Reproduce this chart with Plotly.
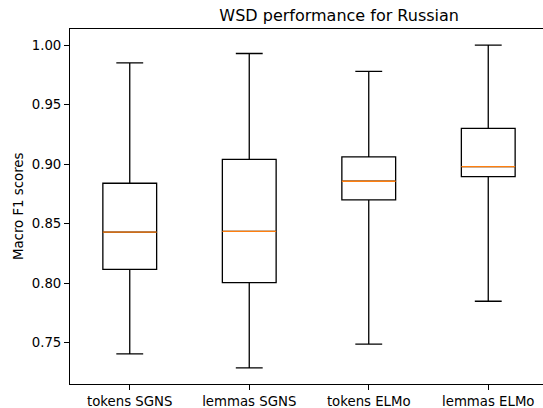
import plotly.graph_objects as go

categories = ["tokens SGNS", "lemmas SGNS", "tokens ELMo", "lemmas ELMo"]
positions = [1, 2, 3, 4]
lower_whisker = [0.7404, 0.7287, 0.7486, 0.7847]
q1_values = [0.8115, 0.8003, 0.8700, 0.8895]
medians = [0.8428, 0.8434, 0.8856, 0.8979]
q3_values = [0.8839, 0.9040, 0.9060, 0.9300]
upper_whisker = [0.9852, 0.9930, 0.9779, 1.0000]
y_ticks = [0.75, 0.80, 0.85, 0.90, 0.95, 1.00]

BOX_W = 0.45
W, H = 543, 408
L, R, T, B = 70, 0, 29, 24
FONT = "DejaVu Sans"

fig = go.Figure()
for p, lo, a, m, b, hi in zip(positions, lower_whisker, q1_values, medians, q3_values, upper_whisker):
    fig.add_trace(go.Box(
        x=[p], q1=[a], median=[m], q3=[b], lowerfence=[lo], upperfence=[hi],
        width=BOX_W, whiskerwidth=0.5, boxpoints=False,
        line=dict(color="black", width=1.3), fillcolor="rgba(0,0,0,0)",
        showlegend=False, hoverinfo="skip",
    ))

mx, my = [], []
for p, m in zip(positions, medians):
    mx += [p - BOX_W / 2, p + BOX_W / 2, None]
    my += [m, m, None]
fig.add_trace(go.Scatter(x=mx, y=my, mode="lines", line=dict(color="#ff7f0e", width=1.3),
                         showlegend=False, hoverinfo="skip"))

# axes extend slightly past the right edge of the picture (cropped figure)
x_right = 4.5 - 5.0 / 119.5
fig.update_layout(
    width=W, height=H,
    margin=dict(l=L, r=R, t=T, b=B, pad=0, autoexpand=False),
    paper_bgcolor="white", plot_bgcolor="white",
    font=dict(family=FONT, size=13.3, color="black"),
    title=dict(text="WSD performance for Russian", font=dict(size=16, color="black"),
               x=309 / W, xanchor="center", xref="paper", y=1 - 15 / H, yanchor="middle", yref="container"),
    xaxis=dict(range=[0.5, x_right], tickvals=positions, ticktext=categories,
               showgrid=False, zeroline=False, showline=True, mirror=True,
               linecolor="black", linewidth=1, ticks="outside", ticklen=5,
               tickcolor="black", tickwidth=1, tickfont=dict(size=13.3), automargin=False),
    yaxis=dict(range=[0.7151, 1.0136], tickvals=y_ticks, tickformat=".2f",
               showgrid=False, zeroline=False, showline=True, mirror=False,
               linecolor="black", linewidth=1, ticks="outside", ticklen=5,
               tickcolor="black", tickwidth=1, tickfont=dict(size=13.3), automargin=False),
    annotations=[dict(text="Macro F1 scores", textangle=-90, showarrow=False,
                      xref="paper", yref="paper", x=(18.5 - L) / (W - L - R), y=0.5,
                      xanchor="center", yanchor="middle", font=dict(size=13.3, color="black"))],
)

fig.write_html("out.html", config={"displayModeBar": False, "staticPlot": True},
               post_script="document.body.style.margin='0';document.body.style.overflow='hidden';")
